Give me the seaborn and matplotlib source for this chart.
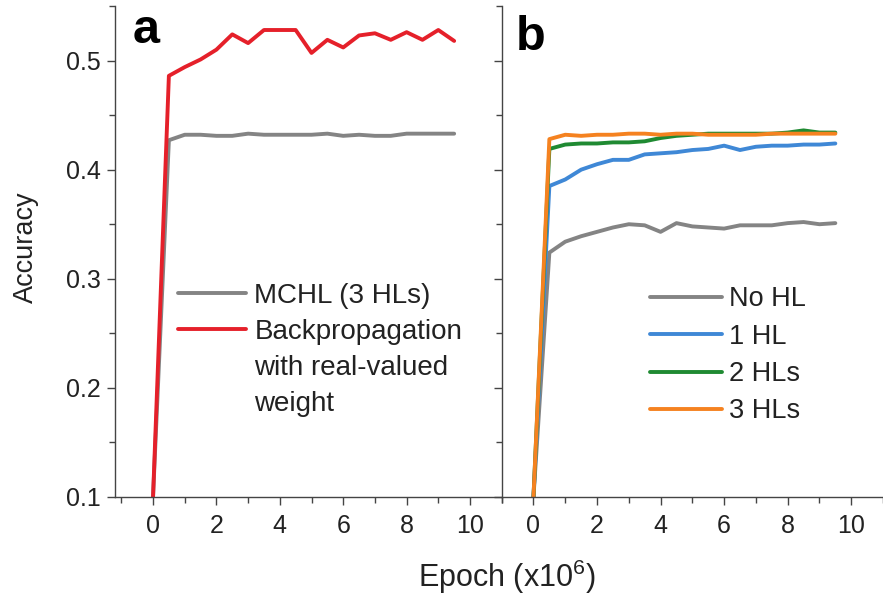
import matplotlib
matplotlib.use("Agg")
import matplotlib.pyplot as plt
import seaborn as sns
import pandas as pd
from matplotlib.ticker import MultipleLocator
from matplotlib.lines import Line2D
from matplotlib import font_manager

# ---------------- data ----------------
epoch = [0.0, 0.5, 1.0, 1.5, 2.0, 2.5, 3.0, 3.5, 4.0, 4.5,
         5.0, 5.5, 6.0, 6.5, 7.0, 7.5, 8.0, 8.5, 9.0, 9.5]

a_labels = ["MCHL (3 HLs)", "Backpropagation"]
a_mchl = [0.100, 0.427, 0.432, 0.432, 0.431, 0.431, 0.433, 0.432, 0.432, 0.432,
          0.432, 0.433, 0.431, 0.432, 0.431, 0.431, 0.433, 0.433, 0.433, 0.433]
a_bp = [0.100, 0.486, 0.494, 0.501, 0.510, 0.524, 0.516, 0.528, 0.528, 0.528,
        0.507, 0.519, 0.512, 0.523, 0.525, 0.519, 0.526, 0.519, 0.528, 0.518]
a_extra_text = ["with real-valued", "weight"]

b_labels = ["No HL", "1 HL", "2 HLs", "3 HLs"]
b_no = [0.100, 0.324, 0.334, 0.339, 0.343, 0.347, 0.350, 0.349, 0.343, 0.351,
        0.348, 0.347, 0.346, 0.349, 0.349, 0.349, 0.351, 0.352, 0.350, 0.351]
b_1 = [0.100, 0.385, 0.391, 0.400, 0.405, 0.409, 0.409, 0.414, 0.415, 0.416,
       0.418, 0.419, 0.422, 0.418, 0.421, 0.422, 0.422, 0.423, 0.423, 0.424]
b_2 = [0.100, 0.419, 0.423, 0.424, 0.424, 0.425, 0.425, 0.426, 0.429, 0.431,
       0.432, 0.433, 0.433, 0.433, 0.433, 0.433, 0.434, 0.436, 0.434, 0.434]
b_3 = [0.100, 0.428, 0.432, 0.431, 0.432, 0.432, 0.433, 0.433, 0.432, 0.433,
       0.433, 0.432, 0.432, 0.432, 0.432, 0.433, 0.433, 0.433, 0.433, 0.433]

a_colors = ["#848484", "#e5202a"]
b_colors = ["#848484", "#3f88d6", "#1f8a32", "#f58220"]

# ---------------- style ----------------
sns.set_theme(style="ticks")
names = {f.name for f in font_manager.fontManager.ttflist}
narrow = "Liberation Sans Narrow" if "Liberation Sans Narrow" in names else "Liberation Sans"
plt.rcParams["font.family"] = ["Liberation Sans", "DejaVu Sans"]
plt.rcParams["mathtext.fontset"] = "custom"
plt.rcParams["mathtext.rm"] = "Liberation Sans"
plt.rcParams["mathtext.it"] = "Liberation Sans"

TXT = "#222222"
SP = "#444444"

fig = plt.figure(figsize=(8.83, 5.99), dpi=100)
W, H = 883, 599
bottom = 1 - 497 / H
height = (497 - 6) / H
ax_a = fig.add_axes([115 / W, bottom, (501.7 - 115) / W, height])
ax_b = fig.add_axes([501.7 / W, bottom, (W - 501.7) / W, height])

lw = 2.8
df_a = pd.DataFrame({
    "epoch": epoch * 2,
    "acc": a_mchl + a_bp,
    "series": [a_labels[0]] * len(epoch) + [a_labels[1]] * len(epoch),
})
sns.lineplot(data=df_a, x="epoch", y="acc", hue="series", hue_order=a_labels,
             palette=a_colors, linewidth=lw, ax=ax_a, legend=False,
             estimator=None, sort=False)

df_b = pd.DataFrame({
    "epoch": epoch * 4,
    "acc": b_no + b_1 + b_2 + b_3,
    "series": sum([[l] * len(epoch) for l in b_labels], []),
})
sns.lineplot(data=df_b, x="epoch", y="acc", hue="series", hue_order=b_labels,
             palette=b_colors, linewidth=lw, ax=ax_b, legend=False,
             estimator=None, sort=False)

for ax, xl in ((ax_a, (-1.2, 11.0)), (ax_b, (-1.0, 11.0))):
    ax.set_xlim(*xl)
    ax.set_ylim(0.1, 0.55)
    ax.set_xlabel("")
    ax.set_ylabel("")
    ax.set_xticks([0, 2, 4, 6, 8, 10])
    ax.xaxis.set_minor_locator(MultipleLocator(1))
    ax.yaxis.set_minor_locator(MultipleLocator(0.05))
    for s in ("top", "right"):
        ax.spines[s].set_visible(False)
    for s in ("left", "bottom"):
        ax.spines[s].set_color(SP)
        ax.spines[s].set_linewidth(1.0)
    ax.tick_params(which="major", direction="out", length=6, width=1.0,
                   color=SP, labelcolor=TXT, labelsize=18, pad=4)
    ax.tick_params(which="minor", direction="out", length=4, width=1.0, color=SP)
    ax.tick_params(axis="x", pad=6)
    ax.set_facecolor("white")

ax_a.set_yticks([0.1, 0.2, 0.3, 0.4, 0.5])
ax_a.set_yticklabels(["0.1", "0.2", "0.3", "0.4", "0.5"])
ax_b.set_yticks([0.1, 0.2, 0.3, 0.4, 0.5])
ax_b.tick_params(axis="y", labelleft=False)
for ax in (ax_a, ax_b):
    for lab in ax.get_xticklabels() + ax.get_yticklabels():
        lab.set_family([narrow, "DejaVu Sans"])

# legends
la = ax_a.get_lines()
blank = Line2D([], [], color="none")
leg_a = ax_a.legend(handles=[la[0], la[1], blank, blank],
                    labels=a_labels + a_extra_text,
                    loc="upper left", bbox_to_anchor=(0.163, 0.436),
                    frameon=False, fontsize=20, handlelength=2.45,
                    handletextpad=0.3, labelspacing=0.36, borderpad=0,
                    borderaxespad=0)
for t in leg_a.get_texts():
    t.set_color(TXT)

lb = ax_b.get_lines()
leg_b = ax_b.legend(handles=lb[:4], labels=b_labels,
                    loc="upper left", bbox_to_anchor=(0.389, 0.429),
                    frameon=False, fontsize=19.5, handlelength=2.65,
                    handletextpad=0.28, labelspacing=0.42, borderpad=0,
                    borderaxespad=0)
for t in leg_b.get_texts():
    t.set_color(TXT)

# labels
fig.text(26 / W, 1 - 247 / H, "Accuracy", rotation=90, ha="center",
         va="center", fontsize=19.5, color=TXT)
fig.text(507 / W, 1 - 577 / H, r"Epoch (x10$^{6}$)", ha="center",
         va="center", fontsize=22, color=TXT)
fig.text(133 / W, 1 - 43 / H, "a", ha="left", va="baseline",
         fontsize=35, fontweight="bold", color="black")
fig.text(516 / W, 1 - 50 / H, "b", ha="left", va="baseline",
         fontsize=35, fontweight="bold", color="black")

fig.savefig("out.png", dpi=100, facecolor="white")
